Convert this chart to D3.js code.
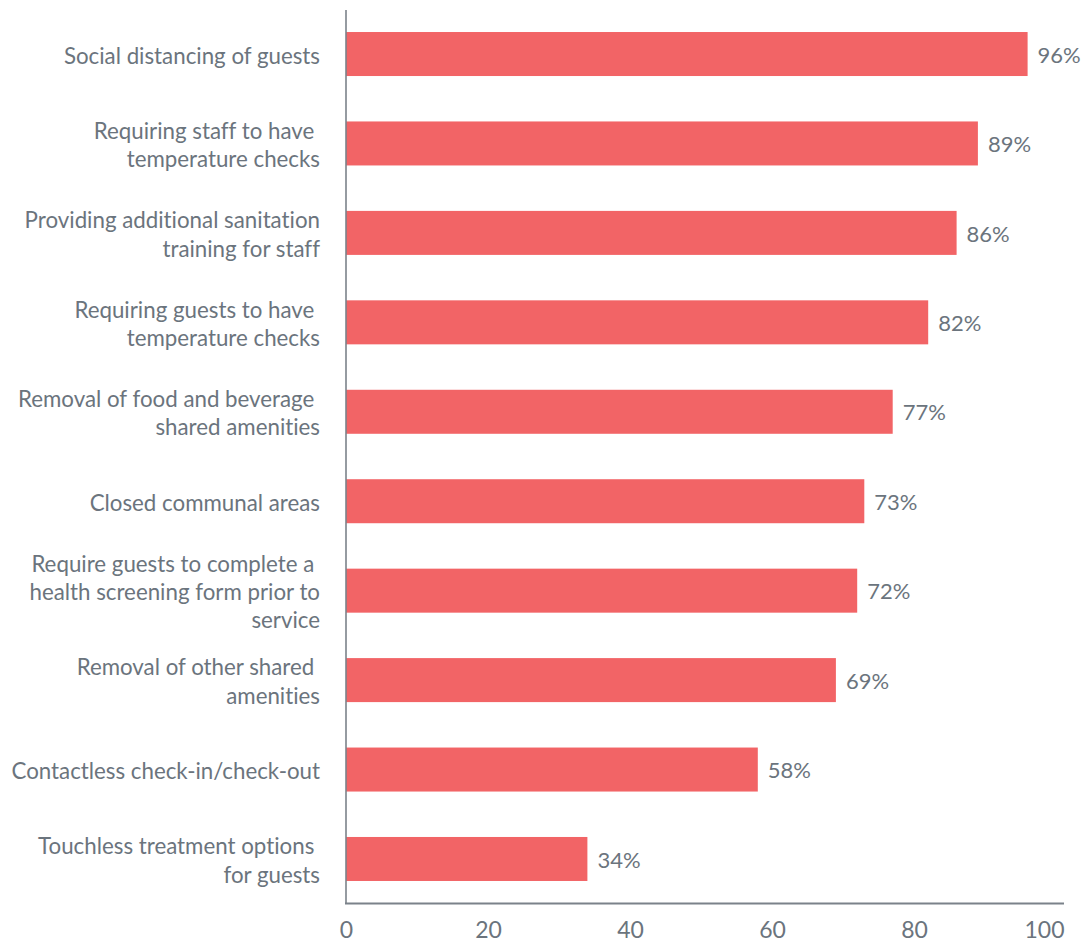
<!DOCTYPE html>
<html>
<head>
<meta charset="utf-8">
<script src="https://cdn.jsdelivr.net/npm/d3@7"></script>
<style>
  html, body { margin: 0; padding: 0; background: #fff; }
  svg text { font-family: Lato, "Open Sans", sans-serif; white-space: pre; font-variant-ligatures: none; font-feature-settings: "liga" 0; }
</style>
</head>
<body>
<svg id="chart" width="1082" height="941"></svg>
<script>
// Measures, one label (possibly multi-line) per bar
const categories = [
  ["Social distancing of guests"],
  ["Requiring staff to have ", "temperature checks"],
  ["Providing additional sanitation", "training for staff"],
  ["Requiring guests to have ", "temperature checks"],
  ["Removal of food and beverage ", "shared amenities"],
  ["Closed communal areas"],
  ["Require guests to complete a ", "health screening form prior to", "service"],
  ["Removal of other shared ", "amenities"],
  ["Contactless check-in/check-out"],
  ["Touchless treatment options ", "for guests"]
];
const values = [96, 89, 86, 82, 77, 73, 72, 69, 58, 34];
const tickValues = [0, 20, 40, 60, 80, 100];

const svg = d3.select("#chart");
const textColor = "#6b747d";
const axisColor = "#7b828a";
const barColor = "#f26466";
const fontSize = 22.3;

const x = d3.scaleLinear().domain([0, 100]).range([346, 1056]);
const y = d3.scaleBand()
  .domain(d3.range(categories.length))
  .range([9.3, 903.7])
  .paddingInner(0.508)
  .paddingOuter(0.254);

// Bars
svg.append("g").selectAll("rect")
  .data(values)
  .join("rect")
  .attr("x", x(0))
  .attr("y", (d, i) => y(i))
  .attr("width", d => x(d) - x(0))
  .attr("height", y.bandwidth())
  .attr("fill", barColor);

// Value labels
svg.append("g").selectAll("text")
  .data(values)
  .join("text")
  .attr("x", d => x(d) + 10)
  .attr("y", (d, i) => y(i) + y.bandwidth() / 2 + 1)
  .attr("dy", "0.35em")
  .attr("font-size", 22)
  .attr("fill", textColor)
  .text(d => d + "%");

// Category labels, right-aligned, vertically centred on each bar
const lineH = 28.3;
const labels = svg.append("g").selectAll("text")
  .data(categories)
  .join("text")
  .attr("text-anchor", "end")
  .attr("font-size", fontSize)
  .attr("fill", textColor)
  .attr("y", (d, i) => y(i) + y.bandwidth() / 2 + 2);
labels.each(function (lines) {
  const t = d3.select(this);
  lines.forEach((ln, k) => {
    t.append("tspan")
      .attr("x", 320)
      .attr("dy", k === 0 ? ((-(lines.length - 1) / 2) * lineH) + 7.5 : lineH)
      .text(ln);
  });
});

// Vertical category axis line
svg.append("line")
  .attr("x1", x(0)).attr("x2", x(0))
  .attr("y1", 10).attr("y2", 904)
  .attr("stroke", axisColor).attr("stroke-width", 1.6);

// Bottom value axis
const xAxis = d3.axisBottom(x).tickValues(tickValues).tickSize(0).tickPadding(18);
const gx = svg.append("g").attr("transform", "translate(0,903.5)").call(xAxis);
gx.select(".domain").remove();
gx.append("line")
  .attr("x1", x(0) - 1).attr("x2", 1064)
  .attr("stroke", axisColor).attr("stroke-width", 2);
gx.selectAll(".tick text")
  .attr("font-family", 'Lato, "Open Sans", sans-serif')
  .attr("font-size", 23)
  .attr("fill", textColor);
// keep the last tick label inside the axis end
gx.selectAll(".tick text")
  .filter(d => d === 100)
  .attr("text-anchor", "end")
  .attr("dx", 1064 - x(100));
</script>
</body>
</html>
